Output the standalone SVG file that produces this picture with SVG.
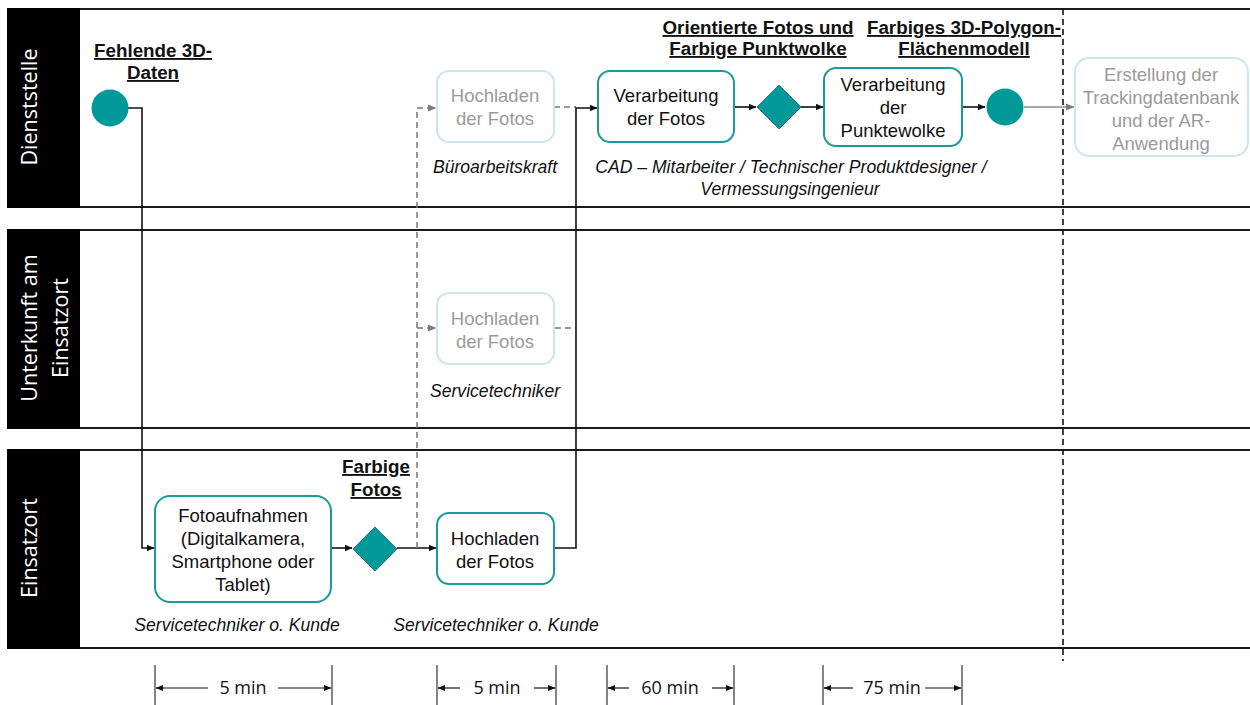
<svg xmlns="http://www.w3.org/2000/svg" width="1250" height="705" viewBox="0 0 1250 705">
  <style>
    .lane { fill: #ffffff; stroke: #1a1a1a; stroke-width: 2; }
    .head { fill: #000000; }
    .headtxt { font-family: "Open Sans", "Noto Sans", sans-serif; font-size: 21.5px; fill: #ffffff; text-anchor: middle; }
    .task { fill: #ffffff; stroke: #1a9a9a; stroke-width: 2; }
    .ghost { fill: #ffffff; stroke: #c9e9e9; stroke-width: 2; }
    .txt { font-family: "Liberation Sans", Arial, sans-serif; font-size: 18.5px; fill: #111111; text-anchor: middle; }
    .gtxt { font-family: "Liberation Sans", Arial, sans-serif; font-size: 18.5px; fill: #9a9a9a; text-anchor: middle; }
    .role { font-family: "Liberation Sans", Arial, sans-serif; font-size: 17.6px; font-style: italic; fill: #111111; text-anchor: middle; }
    .data { font-family: "Liberation Sans", Arial, sans-serif; font-size: 18.8px; font-weight: bold; fill: #111111; text-anchor: middle; text-decoration: underline; }
    .event { fill: #009999; }
    .gate { fill: #009999; stroke: #3b6f86; stroke-width: 1; }
    .flow { fill: none; stroke: #111111; stroke-width: 1.6; }
    .dflow { fill: none; stroke: #777777; stroke-width: 1.5; stroke-dasharray: 6 4; }
    .gflow { fill: none; stroke: #8a8a8a; stroke-width: 1.5; }
    .tick { stroke: #333333; stroke-width: 1.2; }
    .dim { stroke: #111111; stroke-width: 1.2; fill: none; }
    .dimtxt { font-family: "Open Sans", "Noto Sans", sans-serif; font-size: 18px; fill: #111111; text-anchor: middle; }
  </style>
  <defs>
    <marker id="arr" markerWidth="8" markerHeight="8" refX="7" refY="4" orient="auto" markerUnits="userSpaceOnUse">
      <path d="M0,0.8 L7.5,4 L0,7.2 Z" fill="#111111"/>
    </marker>
    <marker id="garr" markerWidth="9" markerHeight="9" refX="8" refY="4.5" orient="auto" markerUnits="userSpaceOnUse">
      <path d="M0,1 L8.5,4.5 L0,8 Z" fill="#7a7a7a"/>
    </marker>
    <marker id="darr" markerWidth="8" markerHeight="8" refX="7" refY="4" orient="auto" markerUnits="userSpaceOnUse">
      <path d="M0,1 L7.5,4 L0,7 Z" fill="#111111"/>
    </marker>
  </defs>

  <rect width="1250" height="705" fill="#ffffff"/>

  <!-- swimlanes -->
  <g id="lane-dienststelle">
    <rect class="lane" x="8" y="9" width="1250" height="198"/>
    <rect class="head" x="7" y="8" width="73" height="200"/>
    <text class="headtxt" transform="translate(37,107) rotate(-90)">Dienststelle</text>
  </g>
  <g id="lane-unterkunft">
    <rect class="lane" x="8" y="230" width="1250" height="198"/>
    <rect class="head" x="7" y="229" width="73" height="200"/>
    <text class="headtxt" transform="translate(37,328) rotate(-90)">Unterkunft am</text>
    <text class="headtxt" transform="translate(68,328) rotate(-90)">Einsatzort</text>
  </g>
  <g id="lane-einsatzort">
    <rect class="lane" x="8" y="450" width="1250" height="198"/>
    <rect class="head" x="7" y="449" width="73" height="200"/>
    <text class="headtxt" transform="translate(37,548) rotate(-90)">Einsatzort</text>
  </g>

  <!-- boundary between modelling steps and follow-up work -->
  <line x1="1063" y1="9" x2="1063" y2="661" stroke="#111111" stroke-width="1.6" stroke-dasharray="6 4"/>

  <!-- connectors -->
  <g id="connectors">
    <path class="flow" d="M128,108 H142 V548 H154" marker-end="url(#arr)"/>
    <path class="flow" d="M331,548 H352" marker-end="url(#arr)"/>
    <path class="flow" d="M397,548 H436" marker-end="url(#arr)"/>
    <path class="dflow" d="M417,548 V108 H436" marker-end="url(#garr)"/>
    <path class="dflow" d="M417,328 H436" marker-end="url(#garr)"/>
    <path class="dflow" d="M554,107 H576"/>
    <path class="dflow" d="M555,328 H576"/>
    <path class="flow" d="M555,548 H576 V108 H597" marker-end="url(#arr)"/>
    <path class="flow" d="M734,107 H756" marker-end="url(#arr)"/>
    <path class="flow" d="M801,107 H823" marker-end="url(#arr)"/>
    <path class="flow" d="M962,107 H985" marker-end="url(#arr)"/>
    <path class="gflow" d="M1024,107 H1074" marker-end="url(#garr)"/>
  </g>

  <!-- Dienststelle -->
  <g id="start-event">
    <circle class="event" cx="110" cy="108" r="18.5"/>
    <text class="data" x="153" y="57">Fehlende 3D-</text>
    <text class="data" x="153" y="79">Daten</text>
  </g>
  <g id="upload-office">
    <rect class="ghost" x="437" y="71" width="117" height="71" rx="12"/>
    <text class="gtxt" x="495" y="102">Hochladen</text>
    <text class="gtxt" x="495" y="125">der Fotos</text>
    <text class="role" x="495" y="173">Büroarbeitskraft</text>
  </g>
  <g id="process-photos">
    <rect class="task" x="598" y="71" width="136" height="71" rx="12"/>
    <text class="txt" x="666" y="102">Verarbeitung</text>
    <text class="txt" x="666" y="125">der Fotos</text>
  </g>
  <g id="roles-cad">
    <text class="role" x="791" y="173">CAD – Mitarbeiter / Technischer Produktdesigner /</text>
    <text class="role" x="790" y="195">Vermessungsingenieur</text>
  </g>
  <g id="gateway-pointcloud">
    <polygon class="gate" points="779,85 801,107 779,129 757,107"/>
    <text class="data" x="758" y="34">Orientierte Fotos und</text>
    <text class="data" x="758" y="55">Farbige Punktwolke</text>
  </g>
  <g id="process-pointcloud">
    <rect class="task" x="824" y="68" width="138" height="78" rx="12"/>
    <text class="txt" x="893" y="91">Verarbeitung</text>
    <text class="txt" x="893" y="114">der</text>
    <text class="txt" x="893" y="137">Punktewolke</text>
  </g>
  <g id="end-event">
    <circle class="event" cx="1005" cy="107" r="18.5"/>
    <text class="data" x="964" y="34">Farbiges 3D-Polygon-</text>
    <text class="data" x="964" y="55">Flächenmodell</text>
  </g>
  <g id="tracking-db">
    <rect class="ghost" x="1075" y="58" width="173" height="98" rx="14"/>
    <text class="gtxt" x="1161" y="81">Erstellung der</text>
    <text class="gtxt" x="1161" y="104">Trackingdatenbank</text>
    <text class="gtxt" x="1161" y="127">und der AR-</text>
    <text class="gtxt" x="1161" y="150">Anwendung</text>
  </g>

  <!-- Unterkunft am Einsatzort -->
  <g id="upload-lodging">
    <rect class="ghost" x="437" y="293" width="117" height="71" rx="12"/>
    <text class="gtxt" x="495" y="325">Hochladen</text>
    <text class="gtxt" x="495" y="348">der Fotos</text>
    <text class="role" x="495" y="397">Servicetechniker</text>
  </g>

  <!-- Einsatzort -->
  <g id="capture-photos">
    <rect class="task" x="155" y="496" width="176" height="106" rx="15"/>
    <text class="txt" x="243" y="522">Fotoaufnahmen</text>
    <text class="txt" x="243" y="545">(Digitalkamera,</text>
    <text class="txt" x="243" y="568">Smartphone oder</text>
    <text class="txt" x="243" y="591">Tablet)</text>
    <text class="role" x="237" y="631">Servicetechniker o. Kunde</text>
  </g>
  <g id="gateway-photos">
    <polygon class="gate" points="375,527 397,549 375,571 353,549"/>
    <text class="data" x="376" y="473">Farbige</text>
    <text class="data" x="376" y="496">Fotos</text>
  </g>
  <g id="upload-site">
    <rect class="task" x="437" y="513" width="117" height="71" rx="12"/>
    <text class="txt" x="495" y="545">Hochladen</text>
    <text class="txt" x="495" y="568">der Fotos</text>
    <text class="role" x="496" y="631">Servicetechniker o. Kunde</text>
  </g>

  <!-- durations -->
  <g id="timeline">
    <line class="tick" x1="155" y1="665" x2="155" y2="705"/>
    <line class="tick" x1="332" y1="665" x2="332" y2="705"/>
    <line class="dim" x1="208" y1="688" x2="156" y2="688" marker-end="url(#darr)"/>
    <line class="dim" x1="278" y1="688" x2="331" y2="688" marker-end="url(#darr)"/>
    <text class="dimtxt" x="243" y="694">5 min</text>

    <line class="tick" x1="437" y1="665" x2="437" y2="705"/>
    <line class="tick" x1="556" y1="665" x2="556" y2="705"/>
    <line class="dim" x1="460" y1="688" x2="438" y2="688" marker-end="url(#darr)"/>
    <line class="dim" x1="534" y1="688" x2="555" y2="688" marker-end="url(#darr)"/>
    <text class="dimtxt" x="497" y="694">5 min</text>

    <line class="tick" x1="607" y1="665" x2="607" y2="705"/>
    <line class="tick" x1="734" y1="665" x2="734" y2="705"/>
    <line class="dim" x1="629" y1="688" x2="608" y2="688" marker-end="url(#darr)"/>
    <line class="dim" x1="712" y1="688" x2="733" y2="688" marker-end="url(#darr)"/>
    <text class="dimtxt" x="670" y="694">60 min</text>

    <line class="tick" x1="823" y1="665" x2="823" y2="705"/>
    <line class="tick" x1="962" y1="665" x2="962" y2="705"/>
    <line class="dim" x1="853" y1="688" x2="824" y2="688" marker-end="url(#darr)"/>
    <line class="dim" x1="925" y1="688" x2="961" y2="688" marker-end="url(#darr)"/>
    <text class="dimtxt" x="892" y="694">75 min</text>
  </g>
</svg>
